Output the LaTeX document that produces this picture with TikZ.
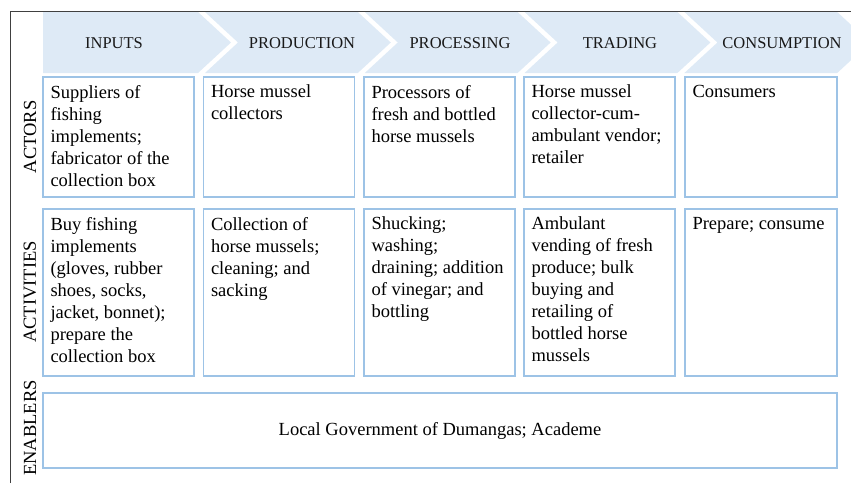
\documentclass[tikz,border=0pt]{standalone}
\usepackage{fontspec}
\setmainfont{Liberation Serif}
\definecolor{chev}{HTML}{DEEAF6}
\definecolor{boxb}{HTML}{9DC3E6}
\definecolor{framec}{HTML}{404040}
\newcommand\bodyfont{\fontsize{18.5}{22}\selectfont}
\newcommand\celltext[3]{\parbox[t][#1][t]{#2}{\bodyfont\raggedright #3}}
\begin{document}
\begin{tikzpicture}[x=1pt,y=-1pt,
  cell/.style={draw=boxb, line width=1.3pt, fill=white, anchor=north west, inner xsep=7.5pt, inner ysep=8pt, outer sep=0pt},
  hdr/.style={inner sep=0pt, text=black!90},
  rowlab/.style={rotate=90, inner sep=0pt}]
\useasboundingbox (0,0) rectangle (851,483);
% frame
\draw[framec, line width=1pt] (10,483) -- (10,11) -- (851,11);
% chevrons
\begin{scope}
\clip (0,0) rectangle (851,483);
\fill[chev] (43,12) -- (198,12) -- (231,42.5) -- (198,73) -- (43,73) -- cycle;
\foreach \k in {1,2,3,4}{
  \pgfmathsetmacro{\L}{198+159.8*(\k-1)+7}
  \pgfmathsetmacro{\R}{198+159.8*\k}
  \fill[chev] (\L,12) -- (\R,12) -- (\R+33,42.5) -- (\R,73) -- (\L,73) -- (\L+33,42.5) -- cycle;
}
\end{scope}
% headers
\node[hdr] (hin) at (114,43) {\fontsize{16.5}{18}\selectfont INPUTS};
\node[hdr] (hpr) at (302,43) {\fontsize{16.5}{18}\selectfont PRODUCTION};
\node[hdr] (hpc) at (460,43) {\fontsize{16.5}{18}\selectfont PROCESSING};
\node[hdr] (htr) at (620,43) {\fontsize{16.5}{18}\selectfont TRADING};
\node[hdr] (hco) at (782,43) {\fontsize{16.5}{18}\selectfont CONSUMPTION};
% row labels
\node[rowlab] (lact) at (30,137) {\bodyfont ACTORS};
\node[rowlab] (lacv) at (30,292) {\bodyfont ACTIVITIES};
\node[rowlab] (lena) at (30,428) {\bodyfont ENABLERS};
% actors
\node[cell] (a1) at (43,77) {\celltext{104pt}{136pt}{Suppliers of\\fishing\\implements;\\fabricator of the\\collection box}};
\node[cell] (a2) at (203.5,77) {\celltext{104pt}{136pt}{Horse mussel\\collectors}};
\node[cell] (a3) at (364,77) {\celltext{104pt}{136pt}{Processors of\\fresh and bottled\\horse mussels}};
\node[cell] (a4) at (524,77) {\celltext{104pt}{136pt}{Horse mussel\\collector-cum-\\ambulant vendor;\\retailer}};
\node[cell] (a5) at (685,77) {\celltext{104pt}{137pt}{Consumers}};
% activities
\node[cell] (b1) at (43,209) {\celltext{151pt}{136pt}{Buy fishing\\implements\\(gloves, rubber\\shoes, socks,\\jacket, bonnet);\\prepare the\\collection box}};
\node[cell] (b2) at (203.5,209) {\celltext{151pt}{136pt}{Collection of\\horse mussels;\\cleaning; and\\sacking}};
\node[cell] (b3) at (364,209) {\celltext{151pt}{136pt}{Shucking;\\washing;\\draining; addition\\of vinegar; and\\bottling}};
\node[cell] (b4) at (524,209) {\celltext{151pt}{136pt}{Ambulant\\vending of fresh\\produce; bulk\\buying and\\retailing of\\bottled horse\\mussels}};
\node[cell] (b5) at (685,209) {\celltext{151pt}{137pt}{Prepare; consume}};
% enablers
\node[draw=boxb, line width=1.3pt, fill=white, minimum width=794pt, minimum height=75pt, inner sep=0pt] (en) at (440,430.5) {\bodyfont Local Government of Dumangas; Academe};
\end{tikzpicture}
\end{document}
